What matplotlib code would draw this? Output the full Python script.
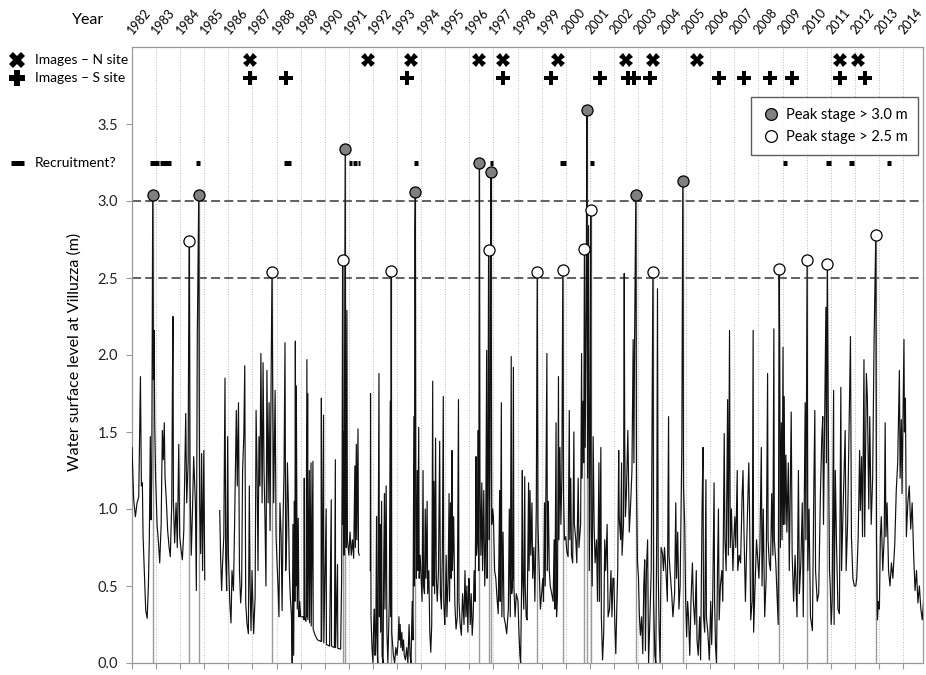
import numpy as np
import matplotlib.pyplot as plt
from matplotlib import transforms
from matplotlib.lines import Line2D

plt.rcParams['font.family'] = ['Lato', 'DejaVu Sans']

# water surface level at Villuzza (decimal year, m)
stage_1982_1985 = [
    (1982.00, 1.40), (1982.07, 1.06), (1982.14, 0.95), (1982.21, 1.04), (1982.28, 1.08), (1982.35, 1.86),
    (1982.39, 1.15), (1982.43, 1.17), (1982.46, 0.82), (1982.51, 0.60), (1982.57, 0.34), (1982.63, 0.29),
    (1982.68, 0.50), (1982.72, 0.82), (1982.76, 1.47), (1982.79, 0.93), (1982.82, 1.21), (1982.86, 3.04),
    (1982.89, 1.84), (1982.92, 2.16), (1982.94, 1.58), (1982.98, 1.21), (1983.04, 0.90), (1983.10, 0.78),
    (1983.15, 0.65), (1983.21, 0.90), (1983.26, 1.51), (1983.30, 1.32), (1983.34, 1.56), (1983.37, 1.21),
    (1983.43, 1.04), (1983.48, 0.86), (1983.54, 0.75), (1983.59, 0.69), (1983.65, 1.04), (1983.68, 1.86),
    (1983.70, 2.25), (1983.72, 1.04), (1983.77, 0.78), (1983.83, 1.04), (1983.88, 0.75), (1983.94, 1.42),
    (1983.98, 0.82), (1984.04, 0.73), (1984.09, 0.67), (1984.15, 0.86), (1984.19, 1.25), (1984.23, 1.62),
    (1984.27, 1.04), (1984.33, 1.30), (1984.35, 2.08), (1984.38, 2.74), (1984.41, 1.15), (1984.46, 0.70),
    (1984.51, 0.99), (1984.56, 1.34), (1984.63, 1.04), (1984.67, 0.47), (1984.71, 2.12), (1984.77, 3.04),
    (1984.79, 1.69), (1984.81, 1.04), (1984.85, 0.71), (1984.89, 1.36), (1984.93, 0.60), (1984.98, 1.38),
    (1985.02, 0.54),
]

stage_1985_1991 = [
    (1985.64, 0.99), (1985.68, 0.67), (1985.72, 0.47), (1985.76, 0.65), (1985.81, 0.82), (1985.86, 1.85),
    (1985.89, 0.67), (1985.93, 0.47), (1985.97, 1.47), (1986.00, 0.71), (1986.06, 0.39), (1986.11, 0.26),
    (1986.15, 0.60), (1986.21, 0.47), (1986.25, 0.82), (1986.29, 1.25), (1986.33, 1.64), (1986.37, 1.15),
    (1986.42, 1.69), (1986.46, 0.60), (1986.51, 0.39), (1986.55, 0.50), (1986.59, 1.25), (1986.64, 1.47),
    (1986.68, 1.93), (1986.72, 0.39), (1986.77, 0.26), (1986.83, 0.19), (1986.87, 1.15), (1986.90, 0.52),
    (1986.94, 0.21), (1986.98, 0.60), (1987.05, 0.19), (1987.11, 0.43), (1987.15, 1.64), (1987.19, 1.25),
    (1987.23, 0.60), (1987.27, 1.47), (1987.31, 1.15), (1987.35, 2.01), (1987.40, 1.04), (1987.44, 1.95),
    (1987.48, 1.25), (1987.52, 0.93), (1987.56, 0.50), (1987.60, 1.90), (1987.65, 1.04), (1987.69, 1.69),
    (1987.73, 0.86), (1987.76, 1.58), (1987.81, 2.54), (1987.84, 1.79), (1987.88, 1.04), (1987.94, 1.77),
    (1987.98, 0.82), (1988.02, 0.65), (1988.06, 0.50), (1988.10, 0.30), (1988.14, 1.04), (1988.19, 0.82),
    (1988.23, 0.34), (1988.27, 0.93), (1988.31, 1.25), (1988.35, 2.08), (1988.38, 0.60), (1988.42, 0.82),
    (1988.45, 1.30), (1988.49, 1.04), (1988.53, 0.60), (1988.57, 0.43), (1988.62, 0.30), (1988.65, 0.00),
    (1988.68, 0.90), (1988.71, 0.05), (1988.74, 1.05), (1988.76, 0.40), (1988.78, 2.09), (1988.80, 0.50),
    (1988.82, 1.80), (1988.86, 0.35), (1988.90, 0.94), (1988.93, 0.30), (1988.96, 0.40), (1989.00, 0.30),
    (1989.10, 0.30), (1989.14, 0.28), (1989.15, 1.20), (1989.16, 0.30), (1989.22, 0.27), (1989.26, 1.97),
    (1989.27, 0.30), (1989.29, 1.75), (1989.30, 0.28), (1989.36, 1.25), (1989.37, 0.26), (1989.43, 1.30),
    (1989.44, 0.24), (1989.51, 1.31), (1989.52, 0.22), (1989.60, 0.18), (1989.70, 0.15), (1989.85, 0.14),
    (1989.86, 1.72), (1989.87, 0.14), (1989.95, 1.61), (1989.96, 0.13), (1990.06, 1.00), (1990.07, 0.12),
    (1990.20, 0.11), (1990.27, 1.06), (1990.28, 0.11), (1990.40, 0.10), (1990.44, 1.32), (1990.45, 0.10),
    (1990.53, 0.64), (1990.54, 0.095), (1990.66, 0.09), (1990.70, 0.55), (1990.72, 1.20), (1990.74, 2.62),
    (1990.76, 0.90), (1990.78, 1.50), (1990.80, 0.70), (1990.85, 3.34), (1990.87, 1.10), (1990.89, 0.75),
    (1990.92, 2.29), (1990.94, 0.80), (1991.00, 0.70), (1991.05, 0.85), (1991.10, 0.70), (1991.15, 0.80),
    (1991.20, 0.68), (1991.25, 1.28), (1991.27, 0.75), (1991.31, 1.42), (1991.33, 0.80), (1991.38, 1.52),
    (1991.40, 0.72), (1991.43, 0.70),
]

stage_1992_1997 = [
    (1991.89, 0.60), (1991.90, 1.75), (1991.92, 0.30), (1991.96, 0.10), (1992.00, 0.00), (1992.03, 0.25),
    (1992.06, 0.35), (1992.09, 0.05), (1992.12, 0.20), (1992.15, 0.95), (1992.17, 0.10), (1992.20, 0.00),
    (1992.25, 1.88), (1992.27, 0.30), (1992.30, 0.90), (1992.32, 0.20), (1992.36, 1.05), (1992.38, 0.05),
    (1992.42, 0.00), (1992.45, 0.70), (1992.48, 1.10), (1992.50, 0.35), (1992.55, 1.15), (1992.58, 0.20),
    (1992.62, 0.00), (1992.68, 0.40), (1992.72, 1.70), (1992.74, 0.30), (1992.76, 2.545), (1992.78, 0.20),
    (1992.85, 0.05), (1992.90, 0.00), (1992.95, 0.10), (1993.00, 0.05), (1993.05, 0.15), (1993.08, 0.30),
    (1993.10, 0.15), (1993.13, 0.25), (1993.16, 0.10), (1993.20, 0.20), (1993.23, 0.08), (1993.27, 0.15),
    (1993.30, 0.05), (1993.35, 0.02), (1993.40, 0.10), (1993.45, 0.00), (1993.50, 0.25), (1993.54, 0.05),
    (1993.58, 0.00), (1993.63, 0.40), (1993.66, 0.15), (1993.70, 1.60), (1993.72, 0.50), (1993.74, 2.81),
    (1993.76, 3.06), (1993.78, 1.00), (1993.80, 0.55), (1993.84, 1.25), (1993.86, 0.60), (1993.90, 1.53),
    (1993.92, 0.55), (1993.96, 0.70), (1994.00, 0.55), (1994.04, 0.40), (1994.08, 1.25), (1994.10, 0.50),
    (1994.14, 0.45), (1994.17, 1.00), (1994.20, 0.55), (1994.25, 1.05), (1994.27, 0.45), (1994.32, 0.60),
    (1994.36, 0.20), (1994.40, 0.07), (1994.44, 0.25), (1994.48, 1.83), (1994.50, 0.50), (1994.53, 1.18),
    (1994.56, 0.45), (1994.60, 1.46), (1994.63, 0.55), (1994.67, 0.40), (1994.72, 0.60), (1994.77, 1.44),
    (1994.80, 0.45), (1994.84, 0.35), (1994.88, 0.70), (1994.92, 1.73), (1994.94, 0.40), (1994.98, 0.25),
    (1995.00, 0.35), (1995.04, 0.70), (1995.07, 0.30), (1995.12, 0.55), (1995.16, 1.10), (1995.18, 0.40),
    (1995.22, 1.04), (1995.25, 0.55), (1995.28, 1.38), (1995.30, 0.60), (1995.35, 0.95), (1995.40, 0.38),
    (1995.45, 0.22), (1995.50, 0.30), (1995.55, 1.71), (1995.57, 0.40), (1995.62, 0.25), (1995.67, 0.18),
    (1995.72, 0.45), (1995.78, 0.25), (1995.82, 0.60), (1995.86, 0.30), (1995.90, 0.50), (1995.94, 0.20),
    (1995.98, 0.55), (1996.00, 0.50), (1996.04, 0.25), (1996.08, 0.45), (1996.12, 0.18), (1996.16, 0.30),
    (1996.20, 0.60), (1996.24, 0.40), (1996.28, 1.34), (1996.30, 0.70), (1996.34, 0.80), (1996.37, 1.51),
    (1996.39, 0.60), (1996.42, 3.25), (1996.44, 1.20), (1996.48, 0.70), (1996.52, 1.17), (1996.55, 0.60),
    (1996.60, 1.12), (1996.64, 0.50), (1996.68, 0.80), (1996.72, 2.03), (1996.74, 0.55), (1996.77, 1.10),
    (1996.80, 2.68), (1996.83, 0.80), (1996.86, 1.30), (1996.88, 2.60), (1996.90, 3.19), (1996.93, 0.90),
    (1996.97, 1.00), (1997.00, 0.95), (1997.05, 0.60), (1997.10, 0.55), (1997.15, 0.42), (1997.20, 0.32),
    (1997.26, 1.12), (1997.28, 0.40), (1997.33, 1.69), (1997.35, 0.30), (1997.40, 0.85), (1997.44, 0.30),
    (1997.50, 0.25), (1997.55, 0.19), (1997.62, 0.35), (1997.66, 1.00), (1997.70, 0.30), (1997.74, 1.99),
    (1997.76, 0.45), (1997.80, 0.55), (1997.83, 1.92), (1997.85, 0.50), (1997.90, 0.30), (1997.95, 0.45),
]

stage_1998_2004 = [
    (1998.02, 0.40), (1998.06, 0.20), (1998.10, 0.05), (1998.13, 0.00), (1998.17, 0.50), (1998.20, 1.25),
    (1998.22, 0.55), (1998.26, 0.35), (1998.30, 1.21), (1998.32, 0.50), (1998.36, 0.30), (1998.40, 0.28),
    (1998.46, 1.17), (1998.48, 0.60), (1998.52, 1.12), (1998.55, 0.70), (1998.60, 1.04), (1998.63, 0.55),
    (1998.68, 0.75), (1998.72, 0.40), (1998.78, 1.00), (1998.82, 2.54), (1998.85, 0.90), (1998.90, 0.60),
    (1998.95, 0.35), (1999.00, 0.45), (1999.05, 0.55), (1999.08, 0.40), (1999.12, 1.04), (1999.15, 0.50),
    (1999.22, 2.01), (1999.24, 0.60), (1999.28, 1.05), (1999.32, 0.60), (1999.36, 0.50), (1999.42, 0.45),
    (1999.48, 0.40), (1999.52, 0.80), (1999.55, 0.35), (1999.60, 1.56), (1999.62, 0.30), (1999.66, 0.45),
    (1999.70, 1.86), (1999.72, 0.80), (1999.76, 1.40), (1999.80, 0.90), (1999.84, 1.20), (1999.88, 2.55),
    (1999.91, 1.10), (1999.95, 0.80), (2000.00, 0.82), (2000.05, 0.72), (2000.10, 0.69), (2000.15, 1.64),
    (2000.17, 0.80), (2000.21, 1.20), (2000.24, 0.70), (2000.29, 0.65), (2000.34, 1.50), (2000.36, 0.90),
    (2000.42, 0.80), (2000.46, 0.65), (2000.52, 1.20), (2000.55, 0.75), (2000.62, 0.90), (2000.66, 2.01),
    (2000.68, 1.20), (2000.72, 1.70), (2000.75, 1.30), (2000.78, 2.69), (2000.81, 1.40), (2000.85, 2.30),
    (2000.88, 3.59), (2000.91, 1.20), (2000.95, 2.84), (2000.98, 0.60), (2001.02, 1.80), (2001.04, 2.94),
    (2001.06, 0.90), (2001.10, 0.50), (2001.14, 1.47), (2001.18, 0.90), (2001.22, 0.65), (2001.28, 0.80),
    (2001.32, 0.40), (2001.38, 1.30), (2001.40, 0.40), (2001.46, 1.40), (2001.48, 0.30), (2001.53, 0.02),
    (2001.58, 0.20), (2001.62, 0.80), (2001.66, 0.60), (2001.72, 0.90), (2001.76, 0.30), (2001.82, 0.35),
    (2001.88, 0.60), (2001.92, 0.30), (2001.96, 0.55), (2002.00, 0.55), (2002.04, 0.25), (2002.08, 0.06),
    (2002.12, 0.35), (2002.16, 0.60), (2002.20, 1.38), (2002.22, 0.95), (2002.28, 0.80), (2002.32, 1.30),
    (2002.34, 0.70), (2002.40, 0.90), (2002.43, 2.53), (2002.45, 1.45), (2002.48, 0.95), (2002.52, 1.10),
    (2002.58, 1.51), (2002.60, 1.30), (2002.64, 0.85), (2002.70, 1.05), (2002.75, 1.25), (2002.80, 2.10),
    (2002.83, 1.30), (2002.86, 2.11), (2002.91, 3.04), (2002.94, 1.15), (2002.98, 0.65), (2003.02, 0.56),
    (2003.06, 0.30), (2003.10, 0.18), (2003.15, 0.30), (2003.20, 0.06), (2003.24, 0.50), (2003.28, 0.67),
    (2003.31, 0.08), (2003.35, 0.60), (2003.40, 0.80), (2003.44, 0.00), (2003.48, 0.20), (2003.55, 0.60),
    (2003.58, 1.40), (2003.62, 2.54), (2003.65, 0.40), (2003.70, 0.05), (2003.74, 0.00), (2003.78, 0.90),
    (2003.81, 2.43), (2003.84, 0.60), (2003.88, 0.20), (2003.92, 0.00), (2003.96, 0.75), (2004.02, 0.71),
    (2004.06, 0.60), (2004.10, 0.75), (2004.16, 0.60), (2004.22, 0.40), (2004.27, 1.60), (2004.29, 0.70),
    (2004.33, 0.60), (2004.40, 0.45), (2004.45, 0.30), (2004.52, 0.45), (2004.57, 1.04), (2004.60, 0.55),
    (2004.65, 0.85), (2004.70, 0.35), (2004.75, 0.50), (2004.82, 1.40), (2004.86, 3.13), (2004.89, 1.15),
    (2004.94, 0.90), (2004.98, 0.40),
]

stage_2005_2014 = [
    (2005.02, 0.17), (2005.06, 0.40), (2005.10, 0.30), (2005.15, 0.05), (2005.20, 0.40), (2005.26, 0.65),
    (2005.30, 0.40), (2005.36, 0.25), (2005.42, 0.60), (2005.45, 0.15), (2005.50, 0.05), (2005.56, 0.30),
    (2005.60, 0.02), (2005.66, 1.00), (2005.70, 1.40), (2005.72, 0.30), (2005.77, 0.20), (2005.82, 1.19),
    (2005.84, 0.30), (2005.90, 0.20), (2005.96, 0.02), (2006.02, 0.40), (2006.06, 0.12), (2006.10, 0.40),
    (2006.16, 1.17), (2006.18, 0.40), (2006.22, 0.10), (2006.26, 0.00), (2006.30, 0.60), (2006.34, 1.00),
    (2006.37, 0.28), (2006.42, 0.50), (2006.48, 0.60), (2006.52, 0.40), (2006.58, 1.49), (2006.61, 0.80),
    (2006.66, 0.60), (2006.72, 1.71), (2006.75, 0.70), (2006.80, 2.16), (2006.83, 0.75), (2006.88, 1.00),
    (2006.94, 0.60), (2006.98, 0.80), (2007.02, 0.95), (2007.06, 0.75), (2007.12, 1.25), (2007.14, 0.60),
    (2007.20, 0.70), (2007.26, 0.65), (2007.32, 1.08), (2007.36, 1.25), (2007.40, 0.85), (2007.46, 0.40),
    (2007.52, 0.82), (2007.60, 1.30), (2007.63, 1.00), (2007.68, 0.28), (2007.74, 0.40), (2007.78, 2.16),
    (2007.80, 0.20), (2007.86, 0.50), (2007.92, 0.80), (2007.96, 0.70), (2008.02, 0.55), (2008.06, 0.75),
    (2008.12, 1.40), (2008.15, 0.50), (2008.20, 1.00), (2008.26, 0.30), (2008.32, 0.55), (2008.38, 1.88),
    (2008.40, 0.80), (2008.45, 0.65), (2008.50, 0.60), (2008.55, 1.10), (2008.60, 0.70), (2008.64, 2.17),
    (2008.66, 0.80), (2008.72, 0.65), (2008.77, 0.45), (2008.82, 0.25), (2008.86, 2.56), (2008.88, 2.09),
    (2008.91, 0.75), (2008.95, 1.56), (2008.98, 0.80), (2009.02, 2.05), (2009.04, 0.90), (2009.07, 1.73),
    (2009.10, 0.90), (2009.14, 1.35), (2009.18, 0.85), (2009.24, 1.30), (2009.28, 0.60), (2009.36, 1.63),
    (2009.40, 0.70), (2009.46, 0.40), (2009.52, 0.70), (2009.60, 0.30), (2009.66, 1.25), (2009.70, 0.45),
    (2009.76, 0.65), (2009.82, 1.04), (2009.86, 0.30), (2009.94, 1.69), (2009.97, 0.80), (2010.02, 2.62),
    (2010.05, 0.60), (2010.10, 1.00), (2010.16, 0.30), (2010.24, 0.21), (2010.30, 1.15), (2010.34, 1.64),
    (2010.37, 0.60), (2010.44, 0.40), (2010.50, 0.45), (2010.57, 1.08), (2010.63, 1.47), (2010.67, 1.60),
    (2010.70, 0.90), (2010.80, 2.31), (2010.82, 1.30), (2010.86, 2.59), (2010.90, 1.55), (2010.95, 0.60),
    (2010.98, 0.50), (2011.02, 0.25), (2011.06, 0.40), (2011.12, 1.77), (2011.14, 0.25), (2011.19, 1.25),
    (2011.24, 0.78), (2011.30, 0.35), (2011.36, 0.32), (2011.42, 1.79), (2011.45, 0.60), (2011.52, 1.04),
    (2011.60, 1.51), (2011.64, 0.60), (2011.70, 0.90), (2011.76, 1.51), (2011.82, 2.12), (2011.86, 0.82),
    (2011.92, 0.55), (2011.98, 0.50), (2012.04, 0.50), (2012.08, 0.55), (2012.14, 0.82), (2012.20, 1.38),
    (2012.23, 0.99), (2012.28, 1.34), (2012.32, 0.82), (2012.38, 1.97), (2012.41, 0.82), (2012.48, 1.88),
    (2012.52, 1.73), (2012.58, 1.00), (2012.62, 1.60), (2012.68, 0.90), (2012.74, 1.20), (2012.80, 2.10),
    (2012.87, 2.78), (2012.90, 0.80), (2012.94, 0.28), (2012.98, 0.40), (2013.02, 0.35), (2013.06, 0.82),
    (2013.10, 0.95), (2013.16, 0.60), (2013.22, 0.82), (2013.26, 1.56), (2013.29, 0.82), (2013.34, 1.04),
    (2013.40, 0.60), (2013.46, 0.50), (2013.52, 0.65), (2013.58, 0.55), (2013.66, 0.78), (2013.72, 1.12),
    (2013.78, 1.30), (2013.85, 1.90), (2013.88, 1.20), (2013.93, 1.58), (2013.96, 1.10), (2014.04, 2.10),
    (2014.06, 1.50), (2014.10, 1.72), (2014.14, 0.82), (2014.20, 1.04), (2014.26, 1.15), (2014.32, 0.87),
    (2014.38, 1.04), (2014.44, 0.71), (2014.50, 0.47), (2014.56, 0.60), (2014.62, 0.39), (2014.68, 0.50),
    (2014.74, 0.35), (2014.80, 0.28), (2014.85, 0.40),
]

# flood peaks
peak_hi_yr = [1982.86, 1984.77, 1990.85, 1993.76, 1996.42, 1996.90, 2000.88, 2002.91, 2004.86]
peak_hi_m = [3.04, 3.04, 3.34, 3.06, 3.25, 3.19, 3.59, 3.04, 3.13]
peak_lo_yr = [1984.38, 1987.81, 1990.74, 1992.76, 1996.80, 1998.82, 1999.88, 2000.78, 2001.04,
              2003.62, 2008.86, 2010.02, 2010.86, 2012.87]
peak_lo_m = [2.74, 2.54, 2.62, 2.545, 2.68, 2.54, 2.55, 2.69, 2.94, 2.54, 2.56, 2.62, 2.59, 2.78]

# aerial images and recruitment periods
img_n_yr = [1986.91, 1991.79, 1993.58, 1996.42, 1997.39, 1999.68, 2002.50, 2003.62, 2005.47, 2011.39, 2012.15]
img_s_yr = [1986.91, 1988.39, 1993.41, 1997.39, 1999.39, 2001.43, 2002.60, 2002.84, 2003.48, 2006.38,
            2007.42, 2008.48, 2009.38, 2011.39, 2012.43]
recruit = [(1982.76, 1983.14), (1983.18, 1983.62), (1984.67, 1984.83), (1988.29, 1988.60),
           (1991.02, 1991.15), (1991.19, 1991.32), (1991.36, 1991.48), (1993.72, 1993.88),
           (1996.84, 1997.00), (1999.77, 2000.02), (2000.99, 2001.19), (2009.03, 2009.19),
           (2010.81, 2011.02), (2011.77, 2011.96), (2013.35, 2013.51)]

years = list(range(1982, 2015))

# join the pieces, leaving the data gaps open
t, v = [], []
for part in [stage_1982_1985, stage_1985_1991, stage_1992_1997, stage_1998_2004, stage_2005_2014]:
    if t and part[0][0] - t[-1] > 0.3:
        t.append(np.nan)
        v.append(np.nan)
    t += [p[0] for p in part]
    v += [p[1] for p in part]

fig = plt.figure(figsize=(9.26, 6.75), dpi=100)
ax = fig.add_axes([132 / 926, 12 / 675, 791 / 926, 616 / 675])

ax.set_xlim(1982.0, 2014.83)
ax.set_ylim(0, 4.0)

# year grid
ax.vlines(years[1:], 0, 4.0, colors='#bbbbbb', linestyles=':', lw=0.7, zorder=0)

# reference levels
ax.axhline(3.0, color='#555555', lw=1.3, ls=(0, (5, 2.3)), zorder=1)
ax.axhline(2.5, color='#555555', lw=1.3, ls=(0, (5, 2.3)), zorder=1)

# stems of the peaks
ax.vlines(peak_hi_yr, 0, peak_hi_m, colors='#9a9a9a', lw=1.0, zorder=2)
ax.vlines(peak_lo_yr, 0, peak_lo_m, colors='#9a9a9a', lw=1.0, zorder=2)

ax.plot(t, v, color='#111111', lw=0.85, zorder=3)

ax.plot(peak_hi_yr, peak_hi_m, 'o', ms=8, mfc='#808080', mec='black', mew=0.9, zorder=5)
ax.plot(peak_lo_yr, peak_lo_m, 'o', ms=8, mfc='white', mec='black', mew=0.9, zorder=5)

# image and recruitment rows
y_n, y_s, y_r = 3.916, 3.80, 3.247
ax.plot(img_n_yr, [y_n] * len(img_n_yr), 'X', ms=10, color='black', mew=0, zorder=5)
ax.plot(img_s_yr, [y_s] * len(img_s_yr), 'P', ms=10, color='black', mew=0, zorder=5)
for a, b in recruit:
    ax.plot([a, b], [y_r, y_r], color='black', lw=3.6, solid_capstyle='butt', zorder=5)

# row labels on the left
tr = transforms.blended_transform_factory(fig.transFigure, ax.transData)
ax.plot([17 / 926], [y_n], 'X', ms=11, color='black', mew=0, transform=tr, clip_on=False)
ax.plot([17 / 926], [y_s], 'P', ms=11, color='black', mew=0, transform=tr, clip_on=False)
ax.plot([11 / 926, 24 / 926], [y_r, y_r], color='black', lw=3.6, solid_capstyle='butt',
        transform=tr, clip_on=False)
ax.text(35 / 926, y_n, 'Images – N site', transform=tr, fontsize=10, va='center', ha='left')
ax.text(35 / 926, y_s, 'Images – S site', transform=tr, fontsize=10, va='center', ha='left')
ax.text(35 / 926, y_r, 'Recruitment?', transform=tr, fontsize=10, va='center', ha='left')

# year labels along the top
trx = transforms.blended_transform_factory(ax.transData, fig.transFigure)
for yr in years:
    ax.text(yr + 0.12, 1 - 36 / 675, str(yr), transform=trx, rotation=50, rotation_mode='anchor',
            ha='left', va='bottom', fontsize=9)
fig.text(88 / 926, 1 - 20 / 675, 'Year', ha='center', va='center', fontsize=11.5)

ax.set_xticks(years)
ax.set_xticklabels([])
ax.set_yticks(np.arange(0, 3.51, 0.5))
ax.set_yticklabels([f'{y:.1f}' for y in np.arange(0, 3.51, 0.5)])
ax.tick_params(axis='both', direction='out', length=4, color='#999999', labelsize=10.5,
               labelcolor='#222222', pad=6)
for s in ax.spines.values():
    s.set_color('#999999')
    s.set_linewidth(0.9)

fig.text(75 / 926, 1 - 352 / 675, 'Water surface level at Villuzza (m)', rotation=90,
         ha='center', va='center', fontsize=11.5)

handles = [Line2D([], [], ls='none', marker='o', ms=8.5, mfc='#808080', mec='black', mew=0.9),
           Line2D([], [], ls='none', marker='o', ms=8.5, mfc='white', mec='black', mew=0.9)]
leg = ax.legend(handles, ['Peak stage > 3.0 m', 'Peak stage > 2.5 m'], loc='upper right',
                bbox_to_anchor=(0.994, 0.919), fontsize=10.5, frameon=True, fancybox=False,
                handletextpad=0.4, borderpad=0.75, labelspacing=0.55, handlelength=1.2,
                borderaxespad=0)
leg.get_frame().set_edgecolor('#333333')
leg.get_frame().set_linewidth(1.0)

fig.savefig('out.png', dpi=100)
